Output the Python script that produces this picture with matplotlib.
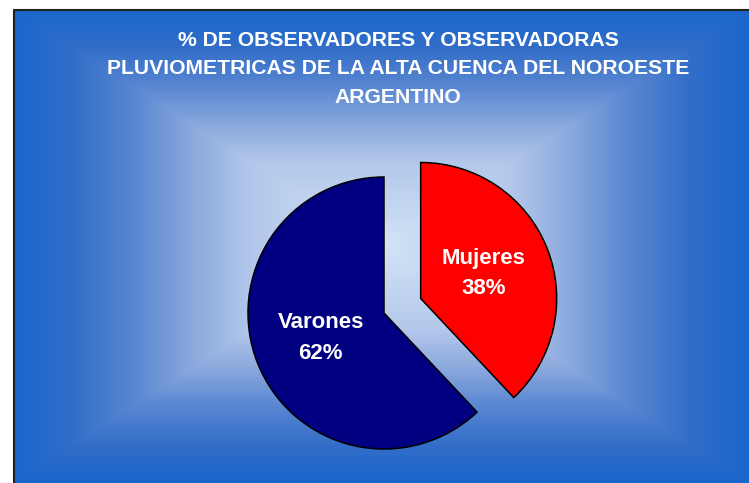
import numpy as np
import matplotlib
matplotlib.use("Agg")
import matplotlib.pyplot as plt

# ****Datos del grafico****
categorias = ["Mujeres", "Varones"]
porcentajes = [38, 62]
colores = ["#FF0000", "#000080"]
titulo = ("% DE OBSERVADORES Y OBSERVADORAS\n"
          "PLUVIOMETRICAS DE LA ALTA CUENCA DEL NOROESTE\n"
          "ARGENTINO")

W, H = 749, 483
plt.rcParams['font.family'] = ['Liberation Sans', 'DejaVu Sans']

fig = plt.figure(figsize=(W / 100, H / 100), dpi=100)
ax = fig.add_axes([0, 0, 1, 1])
ax.set_xlim(0, W)
ax.set_ylim(0, H)
ax.axis('off')

# ****Fondo con degradado rectangular desde el centro****
x0, x1, y_top = 14, W, 10
cx, cy = (x0 + x1) / 2, (y_top + H) / 2
hw, hh = (x1 - x0) / 2, (H - y_top) / 2
xs = np.arange(x0, x1) + 0.5
ys = np.arange(y_top, H) + 0.5
gx, gy = np.meshgrid(xs, ys)
t = np.maximum(np.abs(gx - cx) / hw, np.abs(gy - cy) / hh)
t = np.clip(t, 0, 1)
# paradas del degradado (centro -> borde)
paradas = [0, 0.35, 0.51, 0.67, 0.84, 1.0]
tonos = np.array([[210, 228, 246], [180, 200, 235], [140, 170, 222],
                  [90, 135, 210], [50, 110, 200], [25, 102, 204]]) / 255
img = np.stack([np.interp(t, paradas, tonos[:, k]) for k in range(3)], axis=-1)
ax.imshow(img, extent=(x0, x1, 0, H - y_top), origin='upper', aspect='auto', zorder=0)
ax.plot([x0, x0, x1], [0, H - y_top, H - y_top], color='#222222', lw=1.5, zorder=1)

# ****Torta****
radio = 136
etiquetas = [f"{c}\n{p}%" for c, p in zip(categorias, porcentajes)]
wedges, textos = ax.pie(porcentajes, colors=colores, labels=etiquetas,
                        startangle=90, counterclock=False,
                        explode=[0.29 * radio, 0], center=(384, H - 313), radius=radio,
                        labeldistance=0.5,
                        wedgeprops=dict(edgecolor='black', linewidth=1.1),
                        textprops=dict(color='white', fontsize=16, fontweight='bold'))
for tx in textos:
    tx.set_ha('center')
    tx.set_va('center')
    tx.set_linespacing(1.58)
    tx.set_zorder(5)

ax.set_xlim(0, W)
ax.set_ylim(0, H)
ax.set_aspect('auto')

ax.text(398, H - 69, titulo, ha='center', va='center', multialignment='center',
        color='white', fontsize=15.2, fontweight='bold', linespacing=1.62, zorder=5)

fig.savefig("out.png", dpi=100)
